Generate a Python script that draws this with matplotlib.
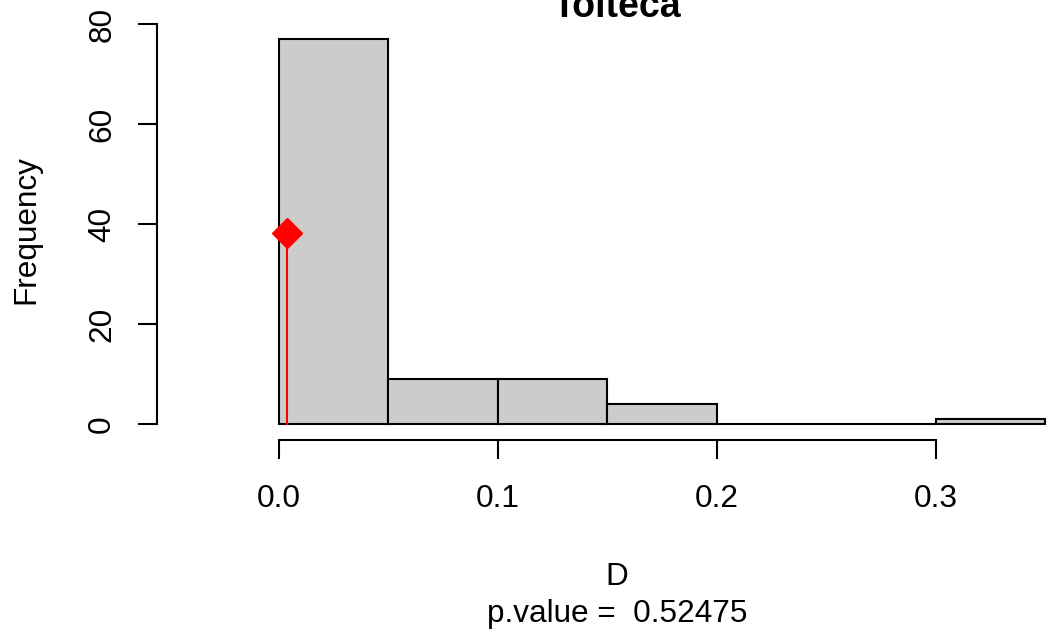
import matplotlib
matplotlib.use("Agg")
import matplotlib.pyplot as plt

plt.rcParams["font.family"] = ["Liberation Sans", "DejaVu Sans"]

# histogram of D
bin_edges = [0.0, 0.05, 0.10, 0.15, 0.20, 0.25, 0.30, 0.35]
counts = [77, 9, 9, 4, 0, 0, 1]
observed_d = 0.0039
observed_h = 38.3
x_ticks = [0.0, 0.1, 0.2, 0.3]
x_ticklabels = ["0.0", "0.1", "0.2", "0.3"]
y_ticks = [0, 20, 40, 60, 80]
title = "Tolteca"
p_value = 0.52475

FS = 22.7
W, H = 1049, 630
fig = plt.figure(figsize=(W / 100, H / 100), dpi=100)
# plot region in pixels (R usr box), right edge runs past the image
left, right, top, bottom = 157, 1077, 8, 440
ax = fig.add_axes([left / W, 1 - bottom / H, (right - left) / W, (bottom - top) / H])
ax.set_xlim(-0.0556, 0.3645)
ax.set_ylim(-3.2, 83.2)

widths = [b - a for a, b in zip(bin_edges[:-1], bin_edges[1:])]
ax.bar(bin_edges[:-1], counts, width=widths, align="edge",
       color="#cccccc", edgecolor="black", linewidth=1.5)

ax.plot([observed_d, observed_d], [0, observed_h], color="red", lw=1.5, zorder=3)
ax.plot(observed_d, observed_h, marker="D", color="red", ms=15, zorder=4)

for s in ["top", "right"]:
    ax.spines[s].set_visible(False)
for s in ["left", "bottom"]:
    ax.spines[s].set_linewidth(1.5)
ax.spines["left"].set_bounds(0, 80)
ax.spines["bottom"].set_bounds(0, 0.3)

ax.set_xticks(x_ticks)
ax.set_xticklabels(x_ticklabels)
ax.set_yticks(y_ticks)
ax.set_yticklabels([str(v) for v in y_ticks], rotation=90, va="center")
ax.tick_params(axis="both", direction="out", length=13.7, width=1.5, labelsize=FS)
ax.tick_params(axis="x", pad=18)
ax.tick_params(axis="y", pad=15)

cx = (left + right) / 2 / W
fig.text(cx, 1 - 17 / H, title, fontsize=27, fontweight="bold",
         ha="center", va="baseline")
fig.text(26 / W, 1 - 230 / H, "Frequency", fontsize=FS, rotation=90,
         ha="center", va="center")
fig.text(cx, 1 - 577 / H, "D", fontsize=FS, ha="center", va="center")
fig.text(cx, 1 - 614 / H, f"p.value =  {p_value}", fontsize=FS,
         ha="center", va="center")

fig.savefig("out.png", dpi=100)
